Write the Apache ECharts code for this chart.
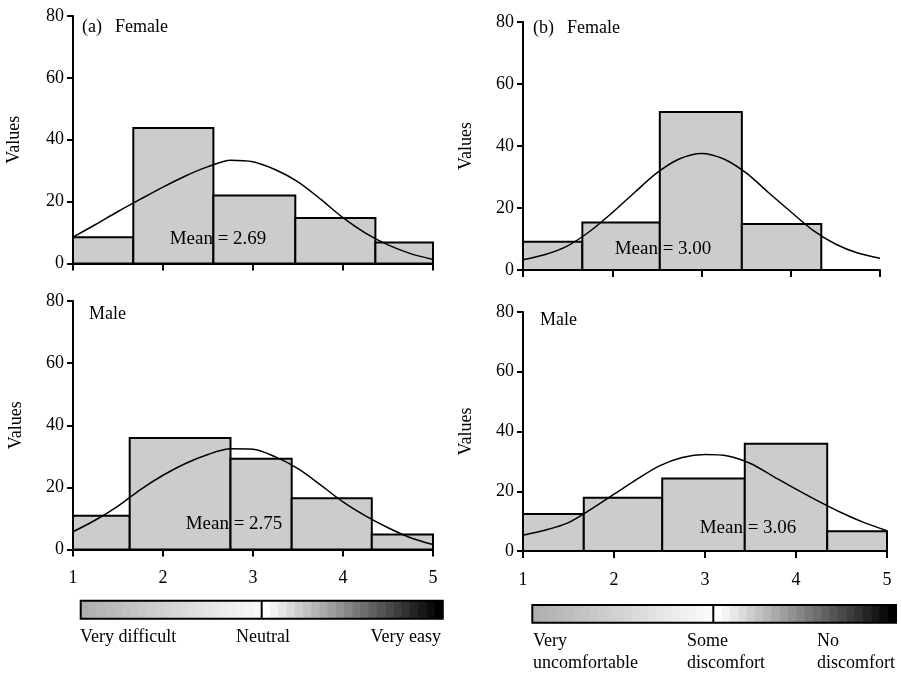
<!DOCTYPE html>
<html><head><meta charset="utf-8">
<script src="https://cdn.jsdelivr.net/npm/echarts@6/dist/echarts.min.js"></script>
<style>html,body{margin:0;padding:0;background:#fff}#c{width:902px;height:675px}</style>
</head><body><div id="c"></div><script>
const FONT = "'Liberation Serif','Times New Roman',Times,serif";

// ---- data ----
const xTicks = [1, 2, 3, 4, 5];
const yTicks = [0, 20, 40, 60, 80];
const curveX = [1, 1.25, 1.5, 1.75, 2, 2.25, 2.5, 2.75, 3, 3.25, 3.5, 3.75, 4, 4.25, 4.5, 4.75, 5];

// (a) ease - Female
const aFemaleEdges  = [1, 1.67, 2.56, 3.47, 4.36, 5];
const aFemaleCounts = [8.5, 43.8, 22.0, 14.7, 6.8];
const aFemaleCurveY = [8.5, 12.6, 16.8, 20.8, 24.7, 28.3, 31.3, 33.4, 32.9, 30.3, 26.4, 20.8, 14.8, 9.8, 6.0, 3.2, 1.3];
const aFemaleMean = "Mean = 2.69";

// (a) ease - Male
const aMaleEdges  = [1, 1.63, 2.75, 3.43, 4.32, 5];
const aMaleCounts = [10.9, 35.9, 29.2, 16.5, 4.8];
const aMaleCurveY = [5.7, 9.5, 14.0, 19.3, 23.9, 27.7, 30.6, 32.4, 32.3, 29.8, 26.0, 20.8, 15.3, 10.8, 7.0, 3.8, 1.6];
const aMaleMean = "Mean = 2.75";

// (b) comfort - Female
const bFemaleEdges  = [1, 1.665, 2.533, 3.452, 4.342];
const bFemaleCounts = [9.1, 15.3, 51.0, 14.8];
const bFemaleCurveY = [3.3, 5.0, 7.8, 12.5, 18.5, 25.0, 31.3, 35.8, 37.6, 35.8, 31.3, 25.0, 18.8, 12.8, 8.4, 5.5, 3.8];
const bFemaleMean = "Mean = 3.00";

// (b) comfort - Male
const bMaleEdges  = [1, 1.668, 2.53, 3.437, 4.343, 5];
const bMaleCounts = [12.4, 17.8, 24.3, 35.9, 6.6];
const bMaleCurveY = [5.3, 7.0, 9.5, 14.0, 19.0, 24.0, 28.5, 31.3, 32.3, 31.8, 29.3, 25.0, 20.7, 16.6, 12.8, 9.5, 6.8];
const bMaleMean = "Mean = 3.06";

const scaleA = ["Very difficult", "Neutral", "Very easy"];
const scaleB = [["Very", "uncomfortable"], ["Some", "discomfort"], ["No", "discomfort"]];

// ---- layout ----
const grids = [
  {left: 73, top: 16, width: 360, height: 247.5},
  {left: 523, top: 22, width: 357, height: 248},
  {left: 73, top: 301, width: 360, height: 248.5},
  {left: 523, top: 312, width: 364, height: 239}
];

function xAx(i, showLabels) {
  return {
    gridIndex: i, type: 'value', min: xTicks[0], max: xTicks[xTicks.length - 1], interval: 1,
    axisLine: {show: true, onZero: false, lineStyle: {color: '#000', width: 2}},
    axisTick: {show: true, length: 7, lineStyle: {color: '#000', width: 2}},
    axisLabel: {show: showLabels, fontFamily: FONT, fontSize: 18, color: '#000', margin: 20},
    splitLine: {show: false}
  };
}
function yAx(i, gap) {
  return {
    gridIndex: i, type: 'value', min: yTicks[0], max: yTicks[yTicks.length - 1], interval: 20,
    name: 'Values', nameLocation: 'middle', nameGap: gap, nameRotate: 90,
    nameTextStyle: {fontFamily: FONT, fontSize: 18, color: '#000'},
    axisLine: {show: true, lineStyle: {color: '#000', width: 2}},
    axisTick: {show: true, length: 6, lineStyle: {color: '#000', width: 2}},
    axisLabel: {fontFamily: FONT, fontSize: 18, color: '#000', margin: 9},
    splitLine: {show: false}
  };
}

function histSeries(i, edges, counts) {
  const data = counts.map((c, k) => [edges[k], edges[k + 1], c]);
  return {
    type: 'custom', xAxisIndex: i, yAxisIndex: i, z: 2,
    encode: {x: [0, 1], y: 2},
    data: data,
    renderItem: function (params, api) {
      const p0 = api.coord([api.value(0), api.value(2)]);
      const p1 = api.coord([api.value(1), 0]);
      return {type: 'rect', shape: {x: p0[0], y: p0[1], width: p1[0] - p0[0], height: p1[1] - p0[1]},
        style: {fill: '#cccccc', stroke: '#000', lineWidth: 2}};
    }
  };
}
function curveSeries(i, xs, ys) {
  return {
    type: 'line', xAxisIndex: i, yAxisIndex: i, z: 4, smooth: 0.3,
    showSymbol: false, symbol: 'none',
    lineStyle: {color: '#000', width: 1.5},
    data: xs.map((x, k) => [x, ys[k]])
  };
}

function txt(x, y, s, align, size) {
  return {type: 'text', x: x, y: y, z: 100,
    style: {text: s, fontFamily: FONT, fontSize: size || 18, fill: '#000',
      align: align || 'left', verticalAlign: 'middle', textAlign: align || 'left', textVerticalAlign: 'middle'}};
}

function gradBar(x0, x1, xm, y0, y1, startGray) {
  const els = [];
  const n = 22;
  const wl = (xm - x0) / n;
  for (let k = 0; k < n; k++) {
    const g = Math.round(startGray + (250 - startGray) * k / (n - 1));
    els.push({type: 'rect', z: 50, shape: {x: x0 + k * wl, y: y0, width: wl + 0.6, height: y1 - y0}, style: {fill: `rgb(${g},${g},${g})`}});
  }
  const wr = (x1 - xm) / n;
  for (let k = 0; k < n; k++) {
    const g = Math.round(255 * (1 - k / (n - 1)));
    els.push({type: 'rect', z: 50, shape: {x: xm + k * wr, y: y0, width: wr + 0.6, height: y1 - y0}, style: {fill: `rgb(${g},${g},${g})`}});
  }
  els.push({type: 'rect', z: 51, shape: {x: x0, y: y0, width: x1 - x0, height: y1 - y0}, style: {fill: 'none', stroke: '#000', lineWidth: 2}});
  els.push({type: 'line', z: 51, shape: {x1: xm, y1: y0, x2: xm, y2: y1}, style: {stroke: '#000', lineWidth: 2}});
  return els;
}

const graphics = [].concat(
  [txt(82, 27, '(a)'), txt(115, 27, 'Female'),
   txt(533, 28, '(b)'), txt(567, 28, 'Female'),
   txt(89, 314, 'Male'), txt(540, 320, 'Male'),
   txt(218, 239, aFemaleMean, 'center', 19),
   txt(663, 249, bFemaleMean, 'center', 19),
   txt(234, 524, aMaleMean, 'center', 19),
   txt(748, 528, bMaleMean, 'center', 19)],
  gradBar(80.7, 442.7, 261.7, 600.7, 618.7, 175),
  gradBar(532.3, 896, 713.3, 605, 622.7, 175),
  [txt(80, 637, scaleA[0], 'left'), txt(263, 637, scaleA[1], 'center'), txt(441, 637, scaleA[2], 'right'),
   txt(533, 641, scaleB[0][0]), txt(533, 663, scaleB[0][1]),
   txt(687, 641, scaleB[1][0]), txt(687, 663, scaleB[1][1]),
   txt(817, 641, scaleB[2][0]), txt(817, 663, scaleB[2][1])]
);

const chart = echarts.init(document.getElementById('c'), null, {renderer: 'canvas'});
chart.setOption({
  backgroundColor: '#ffffff',
  animation: false,
  grid: grids,
  xAxis: [xAx(0, false), xAx(1, false), xAx(2, true), xAx(3, true)],
  yAxis: [yAx(0, 50), yAx(1, 48), yAx(2, 48), yAx(3, 48)],
  series: [
    histSeries(0, aFemaleEdges, aFemaleCounts), curveSeries(0, curveX, aFemaleCurveY),
    histSeries(1, bFemaleEdges, bFemaleCounts), curveSeries(1, curveX, bFemaleCurveY),
    histSeries(2, aMaleEdges, aMaleCounts), curveSeries(2, curveX, aMaleCurveY),
    histSeries(3, bMaleEdges, bMaleCounts), curveSeries(3, curveX, bMaleCurveY)
  ],
  graphic: graphics
});
</script></body></html>
